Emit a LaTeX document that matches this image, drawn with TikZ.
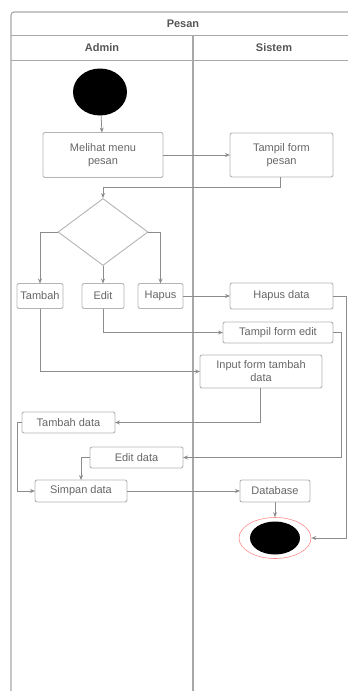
\documentclass[tikz,border=0pt]{standalone}
\usepackage{fontspec}
\setmainfont{Liberation Sans}
\usetikzlibrary{shapes.geometric,arrows.meta}
\definecolor{txt}{HTML}{666666}
\definecolor{headtxt}{HTML}{555555}
\definecolor{edge}{HTML}{8C8C8C}
\definecolor{boxline}{HTML}{B4B4B4}
\definecolor{frameline}{HTML}{A8A8A8}
\tikzset{
  act/.style={draw=boxline, line width=0.9pt, rounded corners=2pt, fill=white,
    text=txt, font=\fontsize{11}{13}\selectfont, align=center,
    inner sep=1pt, outer sep=0pt},
  flow/.style={draw=edge, line width=0.8pt, -{Stealth[length=5pt,width=4pt]}},
  lanehead/.style={text=headtxt, font=\fontsize{11}{13}\selectfont\bfseries}
}
\begin{document}
\begin{tikzpicture}[x=1pt,y=-1pt]
\useasboundingbox (0,0) rectangle (348,691);
% swimlane frame
\draw[frameline, line width=1.1pt, rounded corners=3pt] (11,12) rectangle (356,705);
\draw[frameline, line width=0.9pt] (11,35) -- (356,35);
\draw[frameline, line width=0.9pt] (11,60) -- (356,60);
\draw[frameline, line width=1.1pt] (193,35) -- (193,705);
\node[lanehead] (pool) at (183,23.5) {Pesan};
\node[lanehead] (laneA) at (102,47.5) {Admin};
\node[lanehead] (laneS) at (274,47.5) {Sistem};

% activities
\node[ellipse, fill=black, minimum width=54pt, minimum height=47pt, inner sep=0pt] (start) at (100,92) {};
\node[act, minimum width=120pt, minimum height=45pt] (melihat) at (103,155) {Melihat menu\\pesan};
\node[act, minimum width=103pt, minimum height=44pt] (tampil) at (281.5,155) {Tampil form\\pesan};
\node[diamond, draw=boxline, line width=0.9pt, fill=white, minimum width=90pt, minimum height=67pt, inner sep=0pt, aspect=1.35] (dec) at (103,232) {};
\node[act, minimum width=46pt, minimum height=25pt] (tambah) at (40,296) {Tambah};
\node[act, minimum width=42pt, minimum height=25pt] (edit) at (103,296) {Edit};
\node[act, minimum width=45pt, minimum height=25pt] (hapus) at (160.5,296) {Hapus};
\node[act, minimum width=103pt, minimum height=26pt] (hapusdata) at (281.5,296) {Hapus data};
\node[act, minimum width=110pt, minimum height=21pt] (tampiledit) at (278,332.5) {Tampil form edit};
\node[act, minimum width=122pt, minimum height=33pt] (input) at (261,371.5) {Input form tambah\\data};
\node[act, minimum width=93pt, minimum height=21pt] (tambahdata) at (68.5,422.5) {Tambah data};
\node[act, minimum width=93pt, minimum height=21pt] (editdata) at (136.5,457.5) {Edit data};
\node[act, minimum width=92pt, minimum height=22pt] (simpan) at (81,491) {Simpan data};
\node[act, minimum width=70pt, minimum height=22pt] (database) at (275,491) {Database};
\node[ellipse, draw=red!45, line width=0.6pt, fill=white, minimum width=72pt, minimum height=41pt, inner sep=0pt] (final) at (275,538) {};
\node[ellipse, fill=black, minimum width=50pt, minimum height=33pt, inner sep=0pt] (finaldot) at (275,538) {};

% control flow
\draw[flow] (start) -- (melihat);
\draw[flow] (melihat) -- (tampil);
\draw[flow] (tampil.south -| 280,0) -- ++(0,10) -| (dec.north);
\draw[flow] (dec.west) -| (tambah.north);
\draw[flow] (dec.south) -- (edit.north);
\draw[flow] (dec.east) -| (hapus.north);
\draw[flow] (hapus) -- (hapusdata);
\draw[flow] (hapusdata.east) -- ++(13,0) |- (final.east);
\draw[flow] (edit.south) |- (tampiledit.west);
\draw[flow] (tampiledit.east) -- ++(8,0) |- (editdata.east);
\draw[flow] (tambah.south) |- (input.west);
\draw[flow] (input.south -| 260,0) |- (tambahdata.east);
\draw[flow] (tambahdata.west) -- ++(-5,0) |- (simpan.west);
\draw[flow] (editdata.west) -| (simpan.north);
\draw[flow] (simpan) -- (database);
\draw[flow] (database) -- (final);
\end{tikzpicture}
\end{document}
